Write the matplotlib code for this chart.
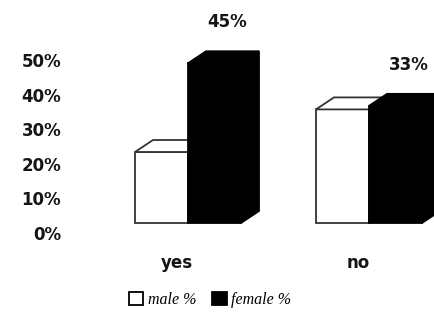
import matplotlib
matplotlib.use("Agg")
import matplotlib.pyplot as plt
from matplotlib.patches import Polygon, Patch
from matplotlib.ticker import PercentFormatter
import numpy as np

# data
categories = ["yes", "no"]
male_pct = [20, 32]
female_pct = [45, 33]
series_names = ["male %", "female %"]
scale_ticks = [0, 10, 20, 30, 40, 50]

W, H = 435, 327
fig = plt.figure(figsize=(W / 100, H / 100), dpi=100)
fig.patch.set_facecolor("white")

# plotting area covers the whole figure; limits give ~181 px per category, ~3.55 px per percent
px_per_cat = 181.0
px_per_pct = 3.55
base_px = 223.0          # baseline, pixels from top
first_px = 188.0         # first category centre, pixels from left
ax = fig.add_axes([0, 0, 1, 1])
ax.set_xlim(-first_px / px_per_cat, (W - first_px) / px_per_cat)
ax.set_ylim(-(H - base_px) / px_per_pct, base_px / px_per_pct)
ax.axis("off")

bar_w = 53.0 / px_per_cat
ddx = 18.0 / px_per_cat   # depth offset (x)
ddy = 12.0 / px_per_pct   # depth offset (y)
x = np.arange(len(categories))

TXT = dict(family="DejaVu Sans", fontweight="bold", color="#151515", fontsize=12)


def draw_box(x0, h, face, edge, side=True):
    """Front face via ax.bar, plus top face and (optionally) right side face."""
    ax.bar(x0, h, width=bar_w, align="edge", color=face, edgecolor=edge,
           linewidth=1.3, zorder=2)
    x1 = x0 + bar_w
    top = Polygon([(x0, h), (x0 + ddx, h + ddy), (x1 + ddx, h + ddy), (x1, h)],
                  closed=True, facecolor=face, edgecolor=edge, linewidth=1.3, zorder=2)
    ax.add_patch(top)
    if side:
        sd = Polygon([(x1, 0), (x1 + ddx, ddy), (x1 + ddx, h + ddy), (x1, h)],
                     closed=True, facecolor=face, edgecolor=edge, linewidth=1.3, zorder=2)
        ax.add_patch(sd)


for i in range(len(categories)):
    draw_box(x[i] - bar_w, male_pct[i], "white", "#333333", side=False)
    draw_box(x[i], female_pct[i], "black", "black", side=True)
    # value label above the female bar
    ax.text(x[i] + bar_w / 2 + ddx / 2 + 4 / px_per_cat, female_pct[i] + 11.5,
            f"{female_pct[i]}%", ha="center", va="center", **TXT)
    # category label
    ax.text(x[i] - 11 / px_per_cat, -40 / px_per_pct, categories[i],
            ha="center", va="center", **TXT)

# value scale on the left
ax_s = fig.add_axes([64 / W, (H - 233) / H, 1 / W, (233 - 60) / H])
ax_s.set_ylim(0, 50)
ax_s.set_yticks(scale_ticks)
ax_s.yaxis.set_major_formatter(PercentFormatter(decimals=0))
ax_s.set_xticks([])
for s in ax_s.spines.values():
    s.set_visible(False)
ax_s.patch.set_alpha(0)
ax_s.tick_params(axis="y", length=0, pad=2)
for lbl in ax_s.get_yticklabels():
    lbl.set_fontweight("bold")
    lbl.set_fontsize(12)
    lbl.set_color("#151515")
    lbl.set_family("DejaVu Sans")

# legend
handles = [Patch(facecolor="white", edgecolor="black", linewidth=1.3),
           Patch(facecolor="black", edgecolor="black", linewidth=1.3)]
fig.legend(handles, series_names, loc="center", bbox_to_anchor=(210 / W, 1 - 300 / H),
           ncol=2, frameon=False, handlelength=0.9, handleheight=0.9,
           handletextpad=0.3, columnspacing=1.0,
           prop={"family": "Liberation Serif", "style": "italic", "size": 11.5})

fig.savefig("out.png", dpi=100, facecolor="white")
